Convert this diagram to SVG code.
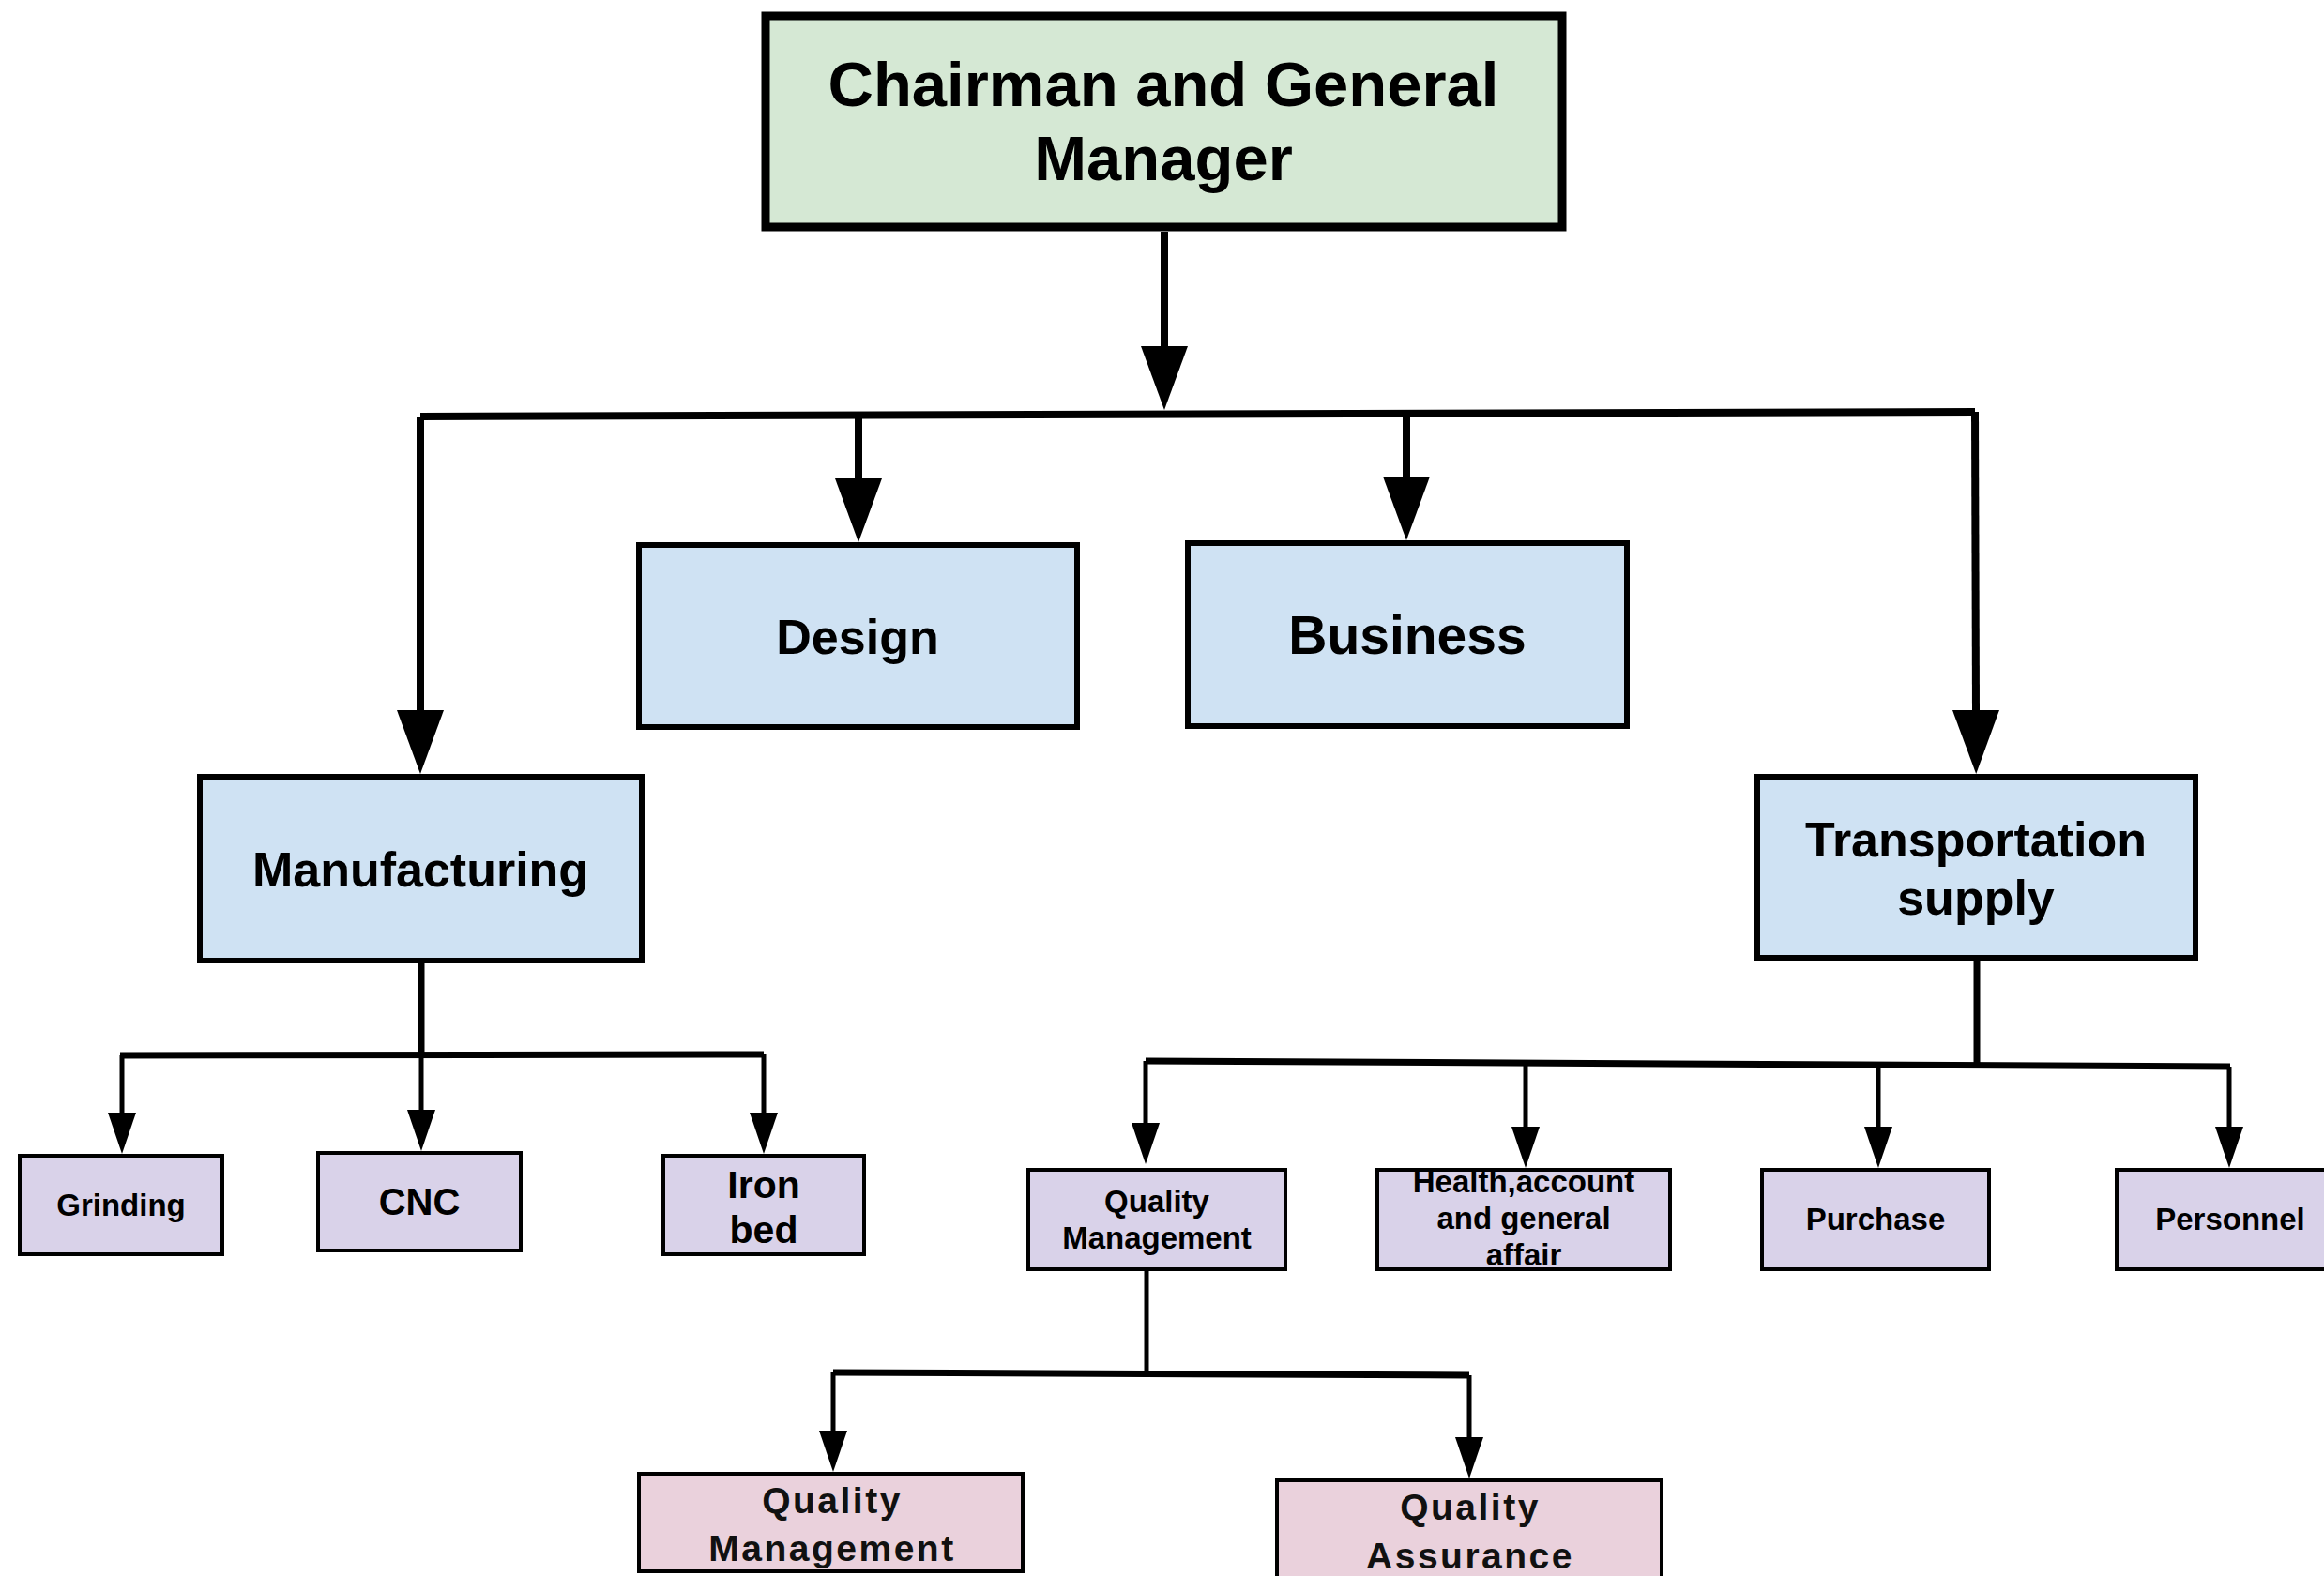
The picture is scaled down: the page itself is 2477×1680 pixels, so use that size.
<svg xmlns="http://www.w3.org/2000/svg" width="2477" height="1680" viewBox="0 0 2477 1680">
  <style>
    text { font-family: "Liberation Sans", Arial, sans-serif; font-weight: bold; fill: #000; text-anchor: middle; }
    .box { stroke: #000; }
    .top { fill: #d5e8d4; stroke-width: 9; }
    .l1 { fill: #cfe2f3; stroke-width: 6; }
    .l2 { fill: #d9d2e9; stroke-width: 4; }
    .l3 { fill: #ead1dc; stroke-width: 4; }
    .pink { font-size: 39px; letter-spacing: 2.5px; fill: #111; }
    .main { fill: none; stroke: #000; stroke-width: 8; }
    .mid { fill: none; stroke: #000; stroke-width: 7; }
    .thin { fill: none; stroke: #000; stroke-width: 5; }
  </style>
  <defs>
    <marker id="arrowBig" markerUnits="userSpaceOnUse" markerWidth="68" markerHeight="50" refX="0" refY="25" orient="auto" viewBox="0 0 68 50">
      <path d="M0,0 L68,25 L0,50 Z" fill="#000"/>
    </marker>
    <marker id="arrowSmall" markerUnits="userSpaceOnUse" markerWidth="44" markerHeight="30" refX="0" refY="15" orient="auto" viewBox="0 0 44 30">
      <path d="M0,0 L44,15 L0,30 Z" fill="#000"/>
    </marker>
  </defs>

  <g id="connectors">
    <path class="main" d="M1241,247 L1241,369" marker-end="url(#arrowBig)"/>
    <path class="main" d="M448,444 L2105,439"/>
    <path class="main" d="M448,444 L448,757" marker-end="url(#arrowBig)"/>
    <path class="main" d="M915,442 L915,510" marker-end="url(#arrowBig)"/>
    <path class="main" d="M1499,441 L1499,508" marker-end="url(#arrowBig)"/>
    <path class="main" d="M2105,439 L2106,757" marker-end="url(#arrowBig)"/>

    <path class="mid" d="M449,1027 L449,1125"/>
    <path class="mid" d="M128,1125 L814,1124"/>
    <path class="thin" d="M130,1125 L130,1186" marker-end="url(#arrowSmall)"/>
    <path class="thin" d="M449,1125 L449,1183" marker-end="url(#arrowSmall)"/>
    <path class="thin" d="M814,1124 L814,1186" marker-end="url(#arrowSmall)"/>

    <path class="mid" d="M2107,1024 L2107,1134"/>
    <path class="mid" d="M1221,1131 L2377,1137"/>
    <path class="thin" d="M1221,1131 L1221,1197" marker-end="url(#arrowSmall)"/>
    <path class="thin" d="M1626,1134 L1626,1201" marker-end="url(#arrowSmall)"/>
    <path class="thin" d="M2002,1135 L2002,1201" marker-end="url(#arrowSmall)"/>
    <path class="thin" d="M2376,1137 L2376,1201" marker-end="url(#arrowSmall)"/>

    <path class="thin" d="M1222,1355 L1222,1464"/>
    <path class="mid" d="M888,1463 L1566,1466"/>
    <path class="thin" d="M888,1463 L888,1525" marker-end="url(#arrowSmall)"/>
    <path class="thin" d="M1566,1466 L1566,1532" marker-end="url(#arrowSmall)"/>
  </g>

  <g id="chairman">
    <rect class="box top" x="816" y="17" width="849" height="225"/>
    <text x="1240" y="113" font-size="67">Chairman and General</text>
    <text x="1240" y="192" font-size="67">Manager</text>
  </g>

  <g id="design">
    <rect class="box l1" x="681" y="581" width="467" height="194"/>
    <text x="914" y="697" font-size="52">Design</text>
  </g>

  <g id="business">
    <rect class="box l1" x="1266" y="579" width="468" height="195"/>
    <text x="1500" y="697" font-size="57">Business</text>
  </g>

  <g id="manufacturing">
    <rect class="box l1" x="213" y="828" width="471" height="196"/>
    <text x="448" y="945" font-size="52">Manufacturing</text>
  </g>

  <g id="transportation">
    <rect class="box l1" x="1873" y="828" width="467" height="193"/>
    <text x="2106" y="913" font-size="52">Transportation</text>
    <text x="2106" y="975" font-size="52">supply</text>
  </g>

  <g id="grinding">
    <rect class="box l2" x="21" y="1232" width="216" height="105"/>
    <text x="129" y="1296" font-size="33">Grinding</text>
  </g>

  <g id="cnc">
    <rect class="box l2" x="339" y="1229" width="216" height="104"/>
    <text x="447" y="1295" font-size="40">CNC</text>
  </g>

  <g id="ironbed">
    <rect class="box l2" x="707" y="1232" width="214" height="105"/>
    <text x="814" y="1277" font-size="41">Iron</text>
    <text x="814" y="1325" font-size="41">bed</text>
  </g>

  <g id="quality-management">
    <rect class="box l2" x="1096" y="1247" width="274" height="106"/>
    <text x="1233" y="1292" font-size="33">Quality</text>
    <text x="1233" y="1331" font-size="33">Management</text>
  </g>

  <g id="health">
    <rect class="box l2" x="1468" y="1247" width="312" height="106"/>
    <text x="1624" y="1271" font-size="33">Health,account</text>
    <text x="1624" y="1310" font-size="33">and general</text>
    <text x="1624" y="1349" font-size="33">affair</text>
  </g>

  <g id="purchase">
    <rect class="box l2" x="1878" y="1247" width="242" height="106"/>
    <text x="1999" y="1311" font-size="33">Purchase</text>
  </g>

  <g id="personnel">
    <rect class="box l2" x="2256" y="1247" width="244" height="106"/>
    <text x="2377" y="1311" font-size="33">Personnel</text>
  </g>

  <g id="quality-management-2">
    <rect class="box l3" x="681" y="1571" width="409" height="104"/>
    <text class="pink" x="887" y="1613">Quality</text>
    <text class="pink" x="887" y="1664">Management</text>
  </g>

  <g id="quality-assurance">
    <rect class="box l3" x="1361" y="1578" width="410" height="110"/>
    <text class="pink" x="1567" y="1620">Quality</text>
    <text class="pink" x="1567" y="1672">Assurance</text>
  </g>
</svg>
